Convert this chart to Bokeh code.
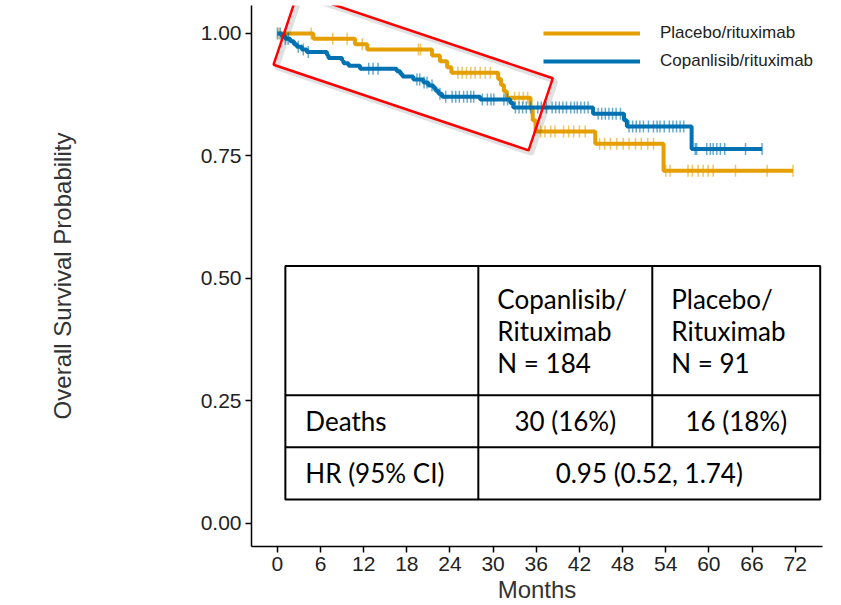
import numpy as np
from bokeh.plotting import figure
from bokeh.models import FixedTicker, Legend, LegendItem
from bokeh.core.properties import value
from bokeh.embed import file_html
from bokeh.resources import INLINE

# Kaplan-Meier curves: months of each death and survival after it
cop_death_t = [0.6, 1.1, 1.8, 2.3, 2.7, 3.4, 4.1, 6.9, 7.1, 9.0, 9.2, 9.9, 11.5, 16.6,
               17.1, 17.4, 18.9, 20.3, 21.0, 21.7, 22.0, 22.4, 22.9, 28.2, 32.4, 32.8,
               43.9, 48.2, 48.6, 57.6]
cop_surv = [0.995, 0.989, 0.984, 0.978, 0.973, 0.967, 0.962, 0.956, 0.950, 0.945, 0.939,
            0.934, 0.928, 0.923, 0.917, 0.912, 0.906, 0.900, 0.894, 0.889, 0.883, 0.877,
            0.871, 0.865, 0.858, 0.849, 0.836, 0.823, 0.810, 0.764]
cop_censor_t = [0.0, 0.4, 1.1, 1.5, 2.9, 3.6, 4.3, 12.7, 13.3, 14.0, 19.4, 19.8, 20.4, 20.8,
                21.5, 22.6, 23.4, 24.3, 24.8, 25.3, 25.9, 26.4, 26.9, 27.3, 28.5, 29.2,
                29.7, 30.1, 31.5, 32.0, 33.1, 33.6, 34.1, 34.6, 35.2, 36.2, 36.7, 37.4,
                38.2, 38.7, 39.2, 39.7, 40.2, 40.8, 41.3, 41.7, 42.2, 42.7, 43.2, 44.6,
                45.1, 45.6, 46.1, 46.6, 47.1, 47.7, 48.9, 49.4, 49.9, 50.4, 50.9, 51.6,
                52.3, 52.8, 53.2, 53.8, 54.5, 55.0, 55.5, 56.0, 56.5, 58.1, 58.3, 59.7,
                60.2, 60.6, 61.1, 61.6, 62.2, 65.1, 67.4]
cop_last = 67.4

pla_death_t = [5.0, 10.8, 12.5, 21.5, 22.6, 23.6, 24.2, 30.7, 31.1, 31.5, 31.9, 35.2, 35.5,
               35.9, 44.2, 53.7]
pla_surv = [0.989, 0.978, 0.967, 0.955, 0.943, 0.931, 0.920, 0.907, 0.895, 0.882, 0.869,
            0.846, 0.823, 0.800, 0.775, 0.720]
pla_censor_t = [0.2, 4.7, 7.7, 9.7, 11.8, 19.6, 19.9, 25.1, 25.7, 26.3, 26.9, 27.5, 28.2,
                28.9, 29.6, 33.0, 33.6, 34.2, 34.8, 36.6, 37.2, 38.0, 38.6, 39.8, 40.5,
                41.2, 42.0, 42.8, 44.8, 45.5, 46.3, 47.2, 48.1, 48.9, 49.8, 50.6, 51.5,
                52.3, 54.0, 54.6, 57.1, 57.7, 58.5, 59.2, 59.9, 60.6, 63.7, 68.1, 71.7]
pla_last = 71.7

x_ticks = list(range(0, 73, 6))
y_ticks = [0.0, 0.25, 0.5, 0.75, 1.0]
y_tick_labels = ["0.00", "0.25", "0.50", "0.75", "1.00"]

# summary table text
head_cop = ["Copanlisib/", "Rituximab", "N = 184"]
head_pla = ["Placebo/", "Rituximab", "N = 91"]
row_labels = ["Deaths", "HR (95% CI)"]
deaths = ["30 (16%)", "16 (18%)"]
hr_text = "0.95 (0.52, 1.74)"

ORANGE = "#E69F00"
BLUE = "#0072B2"


def km_steps(t, s, last):
    return [0.0] + list(t) + [last], [1.0] + list(s) + [s[-1]]


def surv_at(q, t, s):
    idx = np.searchsorted(np.asarray(t), np.asarray(q), side="right")
    return np.r_[1.0, s][idx]


p = figure(width=833, height=605, x_range=(-3.6, 75.8), y_range=(-0.047, 1.057),
           output_backend="svg", toolbar_location=None,
           min_border_left=251, min_border_right=11, min_border_top=5, min_border_bottom=52)
p.outline_line_color = None
p.xgrid.grid_line_color = None
p.ygrid.grid_line_color = None

# curves: placebo first so copanlisib sits on top
px, py = km_steps(pla_death_t, pla_surv, pla_last)
pla_line = p.step(px, py, mode="after", line_color=ORANGE, line_width=4)
pla_cens = p.scatter(pla_censor_t, surv_at(pla_censor_t, pla_death_t, pla_surv),
                     marker="dash", angle=np.pi / 2, size=12,
                     line_color=ORANGE, line_width=1.5, line_alpha=0.6)
cx, cy = km_steps(cop_death_t, cop_surv, cop_last)
cop_line = p.step(cx, cy, mode="after", line_color=BLUE, line_width=4)
cop_cens = p.scatter(cop_censor_t, surv_at(cop_censor_t, cop_death_t, cop_surv),
                     marker="dash", angle=np.pi / 2, size=12,
                     line_color=BLUE, line_width=1.5, line_alpha=0.6)

# table overlay (edges in data units)
col_edges = [1.11, 27.94, 52.13, 75.48]
row_edges = [0.5256, 0.2618, 0.1554, 0.0491]
p.quad(left=[col_edges[0]], right=[col_edges[3]], top=[row_edges[0]], bottom=[row_edges[3]],
       fill_color=None, line_color="black", line_width=2)
p.segment(x0=[col_edges[1], col_edges[2], col_edges[0], col_edges[0]],
          y0=[row_edges[0], row_edges[0], row_edges[1], row_edges[2]],
          x1=[col_edges[1], col_edges[2], col_edges[3], col_edges[3]],
          y1=[row_edges[3], row_edges[2], row_edges[1], row_edges[2]],
          line_color="black", line_width=2)

tfont = dict(text_font=value("Lato"), text_font_size="26px", text_color="black",
             text_baseline="middle")
head_mid = (row_edges[0] + row_edges[1]) / 2
p.text(x=[col_edges[1]] * 3 + [col_edges[2]] * 3, y=[head_mid] * 6,
       text=head_cop + head_pla, x_offset=19, y_offset=[-32, 0, 32, -32, 0, 32],
       text_align="left", **tfont)
row_mid = [(row_edges[1] + row_edges[2]) / 2, (row_edges[2] + row_edges[3]) / 2]
p.text(x=[col_edges[0]] * 2, y=row_mid, text=row_labels, x_offset=20,
       text_align="left", **tfont)
p.text(x=[(col_edges[1] + col_edges[2]) / 2, (col_edges[2] + col_edges[3]) / 2,
          (col_edges[1] + col_edges[3]) / 2],
       y=[row_mid[0], row_mid[0], row_mid[1]], text=deaths + [hr_text],
       text_align="center", **tfont)

# red highlight box with a soft shadow
p.rect(x=[18.88 + 3 / 7.19], y=[0.9223 - 3 / 489], width=269, height=76,
       width_units="screen", height_units="screen", angle=-0.324,
       fill_color=None, line_color="black", line_alpha=0.12, line_width=5)
p.rect(x=[18.88], y=[0.9223], width=269, height=76, width_units="screen",
       height_units="screen", angle=-0.324, fill_color=None,
       line_color="#FF0000", line_width=2.5)

legend = Legend(items=[LegendItem(label="Placebo/rituximab", renderers=[pla_line, pla_cens]),
                       LegendItem(label="Copanlisib/rituximab", renderers=[cop_line, cop_cens])],
                location=(292, 471), orientation="vertical",
                glyph_width=97, glyph_height=28, spacing=0, label_standoff=20,
                padding=0, margin=0, border_line_color=None, background_fill_alpha=0,
                label_text_font="Liberation Sans", label_text_font_size="17px",
                label_text_color="#222222", label_height=28)
p.add_layout(legend)

for ax in (p.xaxis, p.yaxis):
    ax.axis_line_color = "black"
    ax.axis_line_width = 1.5
    ax.major_tick_line_color = "black"
    ax.major_tick_line_width = 1.5
    ax.major_tick_out = 6
    ax.major_tick_in = 0
    ax.minor_tick_line_color = None
    ax.major_label_text_font = "Liberation Sans"
    ax.major_label_text_font_size = "21px"
    ax.major_label_text_color = "#222222"
    ax.axis_label_text_font = "Liberation Sans"
    ax.axis_label_text_font_size = "24px"
    ax.axis_label_text_font_style = "normal"
    ax.axis_label_text_color = "#333333"

p.xaxis.ticker = FixedTicker(ticks=x_ticks)
p.xaxis.axis_label = "Months"
p.xaxis.major_label_standoff = 4
p.xaxis.axis_label_standoff = 2
p.yaxis.ticker = FixedTicker(ticks=y_ticks)
p.yaxis.major_label_overrides = {t: lab for t, lab in zip(y_ticks, y_tick_labels)}
p.yaxis.major_label_standoff = 4
p.yaxis.axis_label = "Overall Survival Probability"
p.yaxis.axis_label_standoff = 122

open("out.html", "w").write(file_html(p, INLINE))
